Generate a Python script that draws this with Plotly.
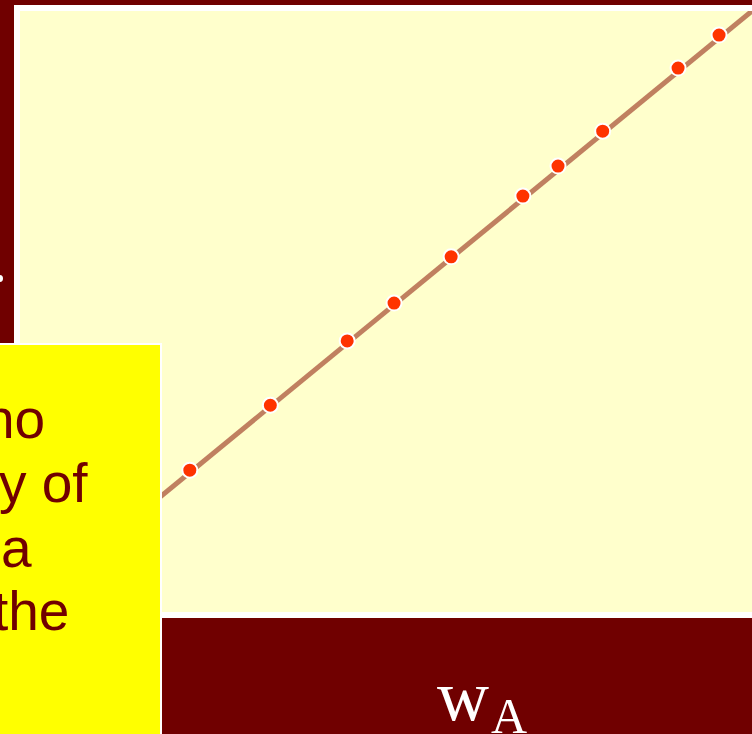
import plotly.graph_objects as go

# Data (mass fraction w_A vs. the other quantity, both 0..1)
w_a = [0.232, 0.342, 0.447, 0.511, 0.589, 0.687, 0.735, 0.796, 0.899, 0.955]
y_vals = [0.236, 0.344, 0.451, 0.514, 0.591, 0.692, 0.742, 0.800, 0.905, 0.960]
line_x = [0, 1]
line_y = [0, 1]

# Text fragments visible in the yellow box
box_lines = ['no', 'y of', 'a', 'the']

W, H = 752, 734
L, T, B = 20, 11, 122
PW, PH = W - L, H - T - B

# pixel -> paper helpers
def px(x):
    return (x - L) / PW

def py(y):
    return (H - B - y) / PH

fig = go.Figure()
fig.add_trace(go.Scatter(x=line_x, y=line_y, mode='lines',
                         line=dict(color='rgb(192,128,96)', width=5),
                         cliponaxis=False, hoverinfo='skip'))
fig.add_trace(go.Scatter(x=w_a, y=y_vals, mode='markers',
                         marker=dict(color='rgb(255,51,0)', size=15,
                                     line=dict(color='white', width=2)),
                         cliponaxis=False))

shapes = [
    # white frame round the plot area
    dict(type='rect', xref='paper', yref='paper', layer='below',
         x0=px(17), x1=px(760), y0=py(615), y1=py(8),
         line=dict(color='white', width=6), fillcolor='rgba(0,0,0,0)'),
    # yellow text box
    dict(type='rect', xref='paper', yref='paper', layer='above',
         x0=px(-5), x1=px(161), y0=py(740), y1=py(344),
         line=dict(color='white', width=2), fillcolor='#FFFF00'),
    # cut off white dot at the left edge
    dict(type='circle', xref='paper', yref='paper', layer='above',
         x0=px(-4), x1=px(3), y0=py(282), y1=py(275),
         line=dict(width=0), fillcolor='white'),
]

annotations = []
left_x = [-18, -3, -1, -9]
base_y = [438, 502, 567, 630]
for txt, lx, by in zip(box_lines, left_x, base_y):
    annotations.append(dict(text=txt, xref='paper', yref='paper',
                            x=px(lx), y=py(by - 19), xanchor='left', yanchor='middle',
                            showarrow=False,
                            font=dict(family='Liberation Sans', size=55, color='#700000')))

# axis label w_A
annotations.append(dict(text='w', xref='paper', yref='paper', x=px(435), y=py(713 - 17),
                        xanchor='left', yanchor='middle', showarrow=False,
                        font=dict(family='Liberation Serif', size=72, color='white')))
annotations.append(dict(text='A', xref='paper', yref='paper', x=px(489), y=py(733 - 17),
                        xanchor='left', yanchor='middle', showarrow=False,
                        font=dict(family='Liberation Serif', size=50, color='white')))

fig.update_layout(
    width=W, height=H,
    margin=dict(l=L, r=0, t=T, b=B, pad=0),
    paper_bgcolor='#700000',
    plot_bgcolor='#FFFFCC',
    showlegend=False,
    shapes=shapes,
    annotations=annotations,
    xaxis=dict(range=[0, 1], visible=False, showgrid=False, zeroline=False),
    yaxis=dict(range=[0, 1], visible=False, showgrid=False, zeroline=False),
)

# page body has a default 8px margin; drop it so the figure fills the window
fig.write_html("out.html", config={'displayModeBar': False},
               post_script="document.body.style.margin='0';")
